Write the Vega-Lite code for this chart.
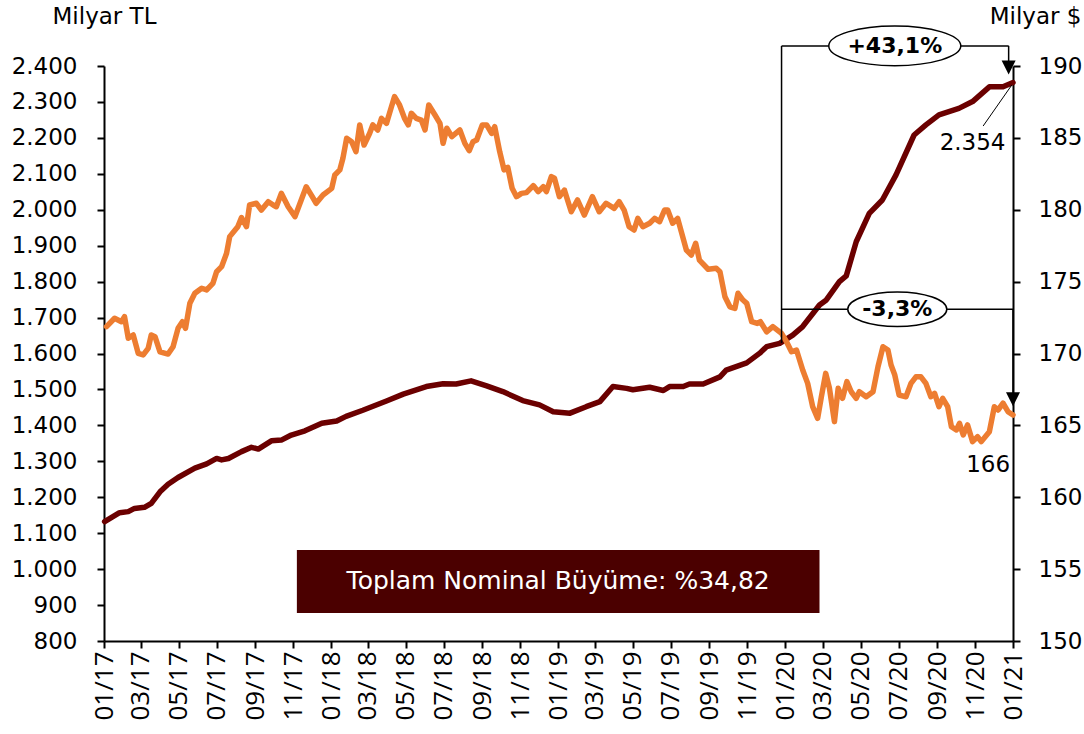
{
  "$schema": "https://vega.github.io/schema/vega-lite/v6.json",
  "width": 909,
  "height": 575,
  "autosize": "none",
  "padding": {"left": 104, "top": 66, "right": 71, "bottom": 93},
  "background": "white",
  "config": {
    "view": {"stroke": null},
    "font": "DejaVu Sans",
    "axis": {
      "grid": false,
      "domainColor": "black",
      "domainWidth": 2,
      "tickColor": "black",
      "tickWidth": 2,
      "tickSize": 7,
      "labelColor": "black",
      "titleColor": "black",
      "labelFont": "DejaVu Sans",
      "titleFont": "DejaVu Sans",
      "titleFontWeight": "normal"
    }
  },
  "datasets": {
    "tl": [
      {"d":"2017-01-02","v":1132},{"d":"2017-01-26","v":1157},{"d":"2017-02-09","v":1160},{"d":"2017-02-19","v":1169},
      {"d":"2017-03-07","v":1172},{"d":"2017-03-18","v":1183},{"d":"2017-04-01","v":1215},{"d":"2017-04-14","v":1236},
      {"d":"2017-04-30","v":1255},{"d":"2017-05-27","v":1281},{"d":"2017-06-15","v":1293},{"d":"2017-07-01","v":1308},
      {"d":"2017-07-09","v":1304},{"d":"2017-07-20","v":1308},{"d":"2017-08-10","v":1327},{"d":"2017-08-26","v":1339},
      {"d":"2017-09-06","v":1334},{"d":"2017-09-27","v":1357},{"d":"2017-10-13","v":1359},{"d":"2017-10-29","v":1373},
      {"d":"2017-11-20","v":1385},{"d":"2017-12-17","v":1406},{"d":"2018-01-10","v":1412},{"d":"2018-01-25","v":1425},
      {"d":"2018-02-21","v":1442},{"d":"2018-03-31","v":1468},{"d":"2018-04-27","v":1487},{"d":"2018-06-03","v":1508},
      {"d":"2018-06-30","v":1516},{"d":"2018-07-21","v":1515},{"d":"2018-08-14","v":1524},{"d":"2018-09-08","v":1510},
      {"d":"2018-10-04","v":1494},{"d":"2018-11-05","v":1469},{"d":"2018-12-02","v":1457},{"d":"2018-12-24","v":1438},
      {"d":"2019-01-20","v":1434},{"d":"2019-02-15","v":1452},{"d":"2019-03-09","v":1466},{"d":"2019-03-30","v":1508},
      {"d":"2019-04-21","v":1503},{"d":"2019-05-01","v":1499},{"d":"2019-05-28","v":1506},{"d":"2019-06-19","v":1497},
      {"d":"2019-06-29","v":1508},{"d":"2019-07-21","v":1508},{"d":"2019-07-31","v":1515},{"d":"2019-08-22","v":1515},
      {"d":"2019-09-18","v":1535},{"d":"2019-09-28","v":1554},{"d":"2019-10-31","v":1574},{"d":"2019-11-21","v":1601},
      {"d":"2019-12-02","v":1619},{"d":"2019-12-23","v":1628},{"d":"2020-01-13","v":1651},{"d":"2020-01-29","v":1675},
      {"d":"2020-02-25","v":1735},{"d":"2020-03-07","v":1749},{"d":"2020-03-28","v":1800},{"d":"2020-04-08","v":1816},
      {"d":"2020-04-24","v":1911},{"d":"2020-05-15","v":1990},{"d":"2020-06-05","v":2027},{"d":"2020-06-27","v":2097},
      {"d":"2020-07-26","v":2208},{"d":"2020-08-14","v":2236},{"d":"2020-09-04","v":2264},{"d":"2020-10-06","v":2282},
      {"d":"2020-10-28","v":2301},{"d":"2020-11-24","v":2342},{"d":"2020-12-16","v":2342},{"d":"2021-01-01","v":2354}
    ],
    "usd": [
      {"d":"2017-01-05","v":171.87},{"d":"2017-01-18","v":172.45},{"d":"2017-01-29","v":172.21},{"d":"2017-02-03","v":172.56},
      {"d":"2017-02-09","v":171.06},{"d":"2017-02-17","v":171.29},{"d":"2017-02-25","v":170.01},{"d":"2017-03-05","v":169.90},
      {"d":"2017-03-13","v":170.36},{"d":"2017-03-18","v":171.29},{"d":"2017-03-24","v":171.17},{"d":"2017-04-01","v":170.12},
      {"d":"2017-04-14","v":169.96},{"d":"2017-04-22","v":170.47},{"d":"2017-04-30","v":171.75},{"d":"2017-05-07","v":172.21},
      {"d":"2017-05-12","v":171.75},{"d":"2017-05-19","v":173.49},{"d":"2017-05-27","v":174.19},{"d":"2017-06-07","v":174.54},
      {"d":"2017-06-15","v":174.42},{"d":"2017-06-25","v":174.88},{"d":"2017-07-01","v":175.69},{"d":"2017-07-09","v":176.04},
      {"d":"2017-07-17","v":176.97},{"d":"2017-07-22","v":178.13},{"d":"2017-08-04","v":178.82},{"d":"2017-08-10","v":179.45},
      {"d":"2017-08-18","v":178.82},{"d":"2017-08-23","v":180.33},{"d":"2017-09-03","v":180.45},{"d":"2017-09-11","v":179.98},
      {"d":"2017-09-22","v":180.56},{"d":"2017-09-30","v":180.33},{"d":"2017-10-05","v":180.21},{"d":"2017-10-13","v":181.14},
      {"d":"2017-10-24","v":180.21},{"d":"2017-11-04","v":179.52},{"d":"2017-11-14","v":180.68},{"d":"2017-11-22","v":181.60},
      {"d":"2017-11-30","v":181.03},{"d":"2017-12-08","v":180.45},{"d":"2017-12-19","v":181.03},{"d":"2018-01-02","v":181.49},
      {"d":"2018-01-07","v":182.42},{"d":"2018-01-15","v":182.77},{"d":"2018-01-20","v":183.58},{"d":"2018-01-26","v":184.97},
      {"d":"2018-02-03","v":184.73},{"d":"2018-02-10","v":184.04},{"d":"2018-02-16","v":185.90},{"d":"2018-02-23","v":184.50},
      {"d":"2018-03-04","v":185.32},{"d":"2018-03-09","v":185.90},{"d":"2018-03-17","v":185.55},{"d":"2018-03-23","v":186.36},
      {"d":"2018-03-31","v":186.01},{"d":"2018-04-08","v":187.17},{"d":"2018-04-13","v":187.87},{"d":"2018-04-21","v":187.29},
      {"d":"2018-04-29","v":186.36},{"d":"2018-05-05","v":185.90},{"d":"2018-05-10","v":186.71},{"d":"2018-05-18","v":186.36},
      {"d":"2018-05-26","v":186.24},{"d":"2018-06-01","v":185.55},{"d":"2018-06-07","v":187.29},{"d":"2018-06-17","v":186.59},
      {"d":"2018-06-25","v":186.01},{"d":"2018-06-30","v":184.62},{"d":"2018-07-06","v":185.67},{"d":"2018-07-14","v":185.08},
      {"d":"2018-07-27","v":185.55},{"d":"2018-08-04","v":184.62},{"d":"2018-08-11","v":184.11},{"d":"2018-08-17","v":184.73},
      {"d":"2018-08-23","v":184.85},{"d":"2018-09-01","v":185.90},{"d":"2018-09-08","v":185.90},{"d":"2018-09-16","v":185.32},
      {"d":"2018-09-21","v":185.78},{"d":"2018-09-29","v":184.04},{"d":"2018-10-06","v":182.77},{"d":"2018-10-12","v":182.95},
      {"d":"2018-10-19","v":181.49},{"d":"2018-10-26","v":180.91},{"d":"2018-11-03","v":181.14},{"d":"2018-11-11","v":181.19},
      {"d":"2018-11-22","v":181.68},{"d":"2018-11-30","v":181.26},{"d":"2018-12-08","v":181.60},{"d":"2018-12-13","v":181.26},
      {"d":"2018-12-21","v":182.30},{"d":"2018-12-26","v":182.19},{"d":"2019-01-03","v":180.91},{"d":"2019-01-11","v":181.37},
      {"d":"2019-01-22","v":179.86},{"d":"2019-02-01","v":180.68},{"d":"2019-02-12","v":179.63},{"d":"2019-02-25","v":180.91},
      {"d":"2019-03-08","v":179.86},{"d":"2019-03-19","v":180.45},{"d":"2019-04-01","v":180.10},{"d":"2019-04-09","v":180.56},
      {"d":"2019-04-17","v":179.98},{"d":"2019-04-25","v":178.82},{"d":"2019-05-03","v":178.59},{"d":"2019-05-09","v":179.40},
      {"d":"2019-05-17","v":178.82},{"d":"2019-05-28","v":179.06},{"d":"2019-06-05","v":179.40},{"d":"2019-06-13","v":179.17},
      {"d":"2019-06-21","v":179.98},{"d":"2019-06-26","v":179.98},{"d":"2019-07-04","v":179.06},{"d":"2019-07-12","v":179.40},
      {"d":"2019-07-26","v":177.20},{"d":"2019-08-03","v":176.85},{"d":"2019-08-10","v":177.67},{"d":"2019-08-16","v":176.50},
      {"d":"2019-08-30","v":175.86},{"d":"2019-09-12","v":175.93},{"d":"2019-09-18","v":175.69},{"d":"2019-09-26","v":173.95},
      {"d":"2019-10-04","v":173.25},{"d":"2019-10-12","v":173.14},{"d":"2019-10-17","v":174.19},{"d":"2019-10-25","v":173.72},
      {"d":"2019-10-31","v":173.49},{"d":"2019-11-08","v":172.21},{"d":"2019-11-17","v":172.09},{"d":"2019-11-22","v":172.21},
      {"d":"2019-12-02","v":171.51},{"d":"2019-12-12","v":171.87},{"d":"2019-12-26","v":171.40},{"d":"2020-01-03","v":170.82},
      {"d":"2020-01-11","v":170.12},{"d":"2020-01-19","v":170.24},{"d":"2020-01-29","v":168.85},{"d":"2020-02-06","v":167.92},
      {"d":"2020-02-14","v":166.30},{"d":"2020-02-22","v":165.49},{"d":"2020-02-28","v":166.99},{"d":"2020-03-06","v":168.62},
      {"d":"2020-03-12","v":167.58},{"d":"2020-03-20","v":165.26},{"d":"2020-03-26","v":167.58},{"d":"2020-04-02","v":166.88},
      {"d":"2020-04-09","v":168.04},{"d":"2020-04-16","v":167.34},{"d":"2020-04-24","v":166.88},{"d":"2020-04-29","v":167.34},
      {"d":"2020-05-10","v":166.99},{"d":"2020-05-21","v":167.34},{"d":"2020-05-29","v":169.08},{"d":"2020-06-06","v":170.47},
      {"d":"2020-06-14","v":170.24},{"d":"2020-06-19","v":169.20},{"d":"2020-06-25","v":168.50},{"d":"2020-07-02","v":167.11},
      {"d":"2020-07-13","v":166.99},{"d":"2020-07-21","v":167.92},{"d":"2020-07-29","v":168.38},{"d":"2020-08-06","v":168.38},
      {"d":"2020-08-14","v":167.92},{"d":"2020-08-22","v":166.99},{"d":"2020-08-28","v":167.23},{"d":"2020-09-04","v":166.30},
      {"d":"2020-09-10","v":166.88},{"d":"2020-09-18","v":166.30},{"d":"2020-09-24","v":164.91},{"d":"2020-10-02","v":164.68},
      {"d":"2020-10-07","v":165.14},{"d":"2020-10-13","v":164.33},{"d":"2020-10-20","v":165.03},{"d":"2020-10-28","v":163.87},
      {"d":"2020-11-05","v":164.21},{"d":"2020-11-11","v":163.87},{"d":"2020-11-24","v":164.56},{"d":"2020-12-02","v":166.30},
      {"d":"2020-12-08","v":166.07},{"d":"2020-12-16","v":166.54},{"d":"2020-12-24","v":165.95},{"d":"2021-01-01","v":165.72}
    ]
  },
  "layer": [
    {
      "data": {"name": "tl", "format": {"parse": {"d": "date:'%Y-%m-%d'"}}},
      "mark": {"type": "line", "color": "#6B0000", "strokeWidth": 5.5, "strokeJoin": "round", "strokeCap": "round"},
      "encoding": {
        "x": {
          "field": "d", "type": "temporal",
          "scale": {"domain": [{"year": 2017, "month": 1, "date": 1}, {"year": 2021, "month": 1, "date": 1}], "nice": false},
          "axis": {
            "title": null, "format": "%m/%y", "labelAngle": 270, "labelFont": "Open Sans", "labelFontSize": 26,
            "labelPadding": 3, "tickCount": {"interval": "month", "step": 2}, "labelOverlap": false,
            "labelFlush": false, "labelBound": false
          }
        },
        "y": {
          "field": "v", "type": "quantitative",
          "scale": {"domain": [800, 2400], "nice": false, "zero": false},
          "axis": {
            "orient": "left",
            "values": [800, 900, 1000, 1100, 1200, 1300, 1400, 1500, 1600, 1700, 1800, 1900, 2000, 2100, 2200, 2300, 2400],
            "labelExpr": "replace(format(datum.value, ','), ',', '.')",
            "labelFontSize": 23, "labelPadding": 20,
            "title": "Milyar TL", "titleAngle": 0, "titleX": 0, "titleY": -50,
            "titleAlign": "center", "titleBaseline": "middle", "titleFontSize": 23
          }
        }
      }
    },
    {
      "data": {"name": "usd", "format": {"parse": {"d": "date:'%Y-%m-%d'"}}},
      "mark": {"type": "line", "color": "#ED7D31", "strokeWidth": 5.5, "strokeJoin": "round", "strokeCap": "round"},
      "encoding": {
        "x": {"field": "d", "type": "temporal"},
        "y": {
          "field": "v", "type": "quantitative",
          "scale": {"domain": [150, 190], "nice": false, "zero": false},
          "axis": {
            "orient": "right",
            "values": [150, 155, 160, 165, 170, 175, 180, 185, 190],
            "labelFontSize": 23, "labelPadding": 18,
            "title": "Milyar $", "titleAngle": 0, "titleX": 22, "titleY": -50,
            "titleAlign": "center", "titleBaseline": "middle", "titleFontSize": 23
          }
        }
      }
    },
    {
      "layer": [
        {
          "data": {
            "values": [
              {"a": "2019-12-26", "b": "2020-12-25", "y1": 2456, "y2": 2456},
              {"a": "2019-12-26", "b": "2019-12-26", "y1": 2456, "y2": 1629},
              {"a": "2020-12-25", "b": "2020-12-25", "y1": 2456, "y2": 2400},
              {"a": "2019-12-26", "b": "2021-01-01", "y1": 1723, "y2": 1723},
              {"a": "2021-01-01", "b": "2021-01-01", "y1": 1723, "y2": 1480}
            ],
            "format": {"parse": {"a": "date:'%Y-%m-%d'", "b": "date:'%Y-%m-%d'"}}
          },
          "mark": {"type": "rule", "color": "black", "strokeWidth": 1.5, "clip": false},
          "encoding": {
            "x": {"field": "a", "type": "temporal"},
            "x2": {"field": "b"},
            "y": {"field": "y1", "type": "quantitative", "scale": {"domain": [800, 2400], "nice": false, "zero": false}, "axis": null},
            "y2": {"field": "y2"}
          }
        },
        {
          "data": {
            "values": [{"a": "2020-11-14", "b": "2020-12-30", "y1": 2233, "y2": 2347}],
            "format": {"parse": {"a": "date:'%Y-%m-%d'", "b": "date:'%Y-%m-%d'"}}
          },
          "mark": {"type": "rule", "color": "black", "strokeWidth": 1, "clip": false},
          "encoding": {
            "x": {"field": "a", "type": "temporal"},
            "x2": {"field": "b"},
            "y": {"field": "y1", "type": "quantitative", "axis": null},
            "y2": {"field": "y2"}
          }
        },
        {
          "data": {
            "values": [{"d": "2020-12-25", "v": 2396}, {"d": "2021-01-01", "v": 1473}],
            "format": {"parse": {"d": "date:'%Y-%m-%d'"}}
          },
          "mark": {"type": "point", "shape": "M-1,-1L1,-1L0,1Z", "size": 196, "filled": true, "color": "black", "opacity": 1, "clip": false},
          "encoding": {
            "x": {"field": "d", "type": "temporal"},
            "y": {"field": "v", "type": "quantitative", "axis": null}
          }
        },
        {
          "data": {"values": [{"d": "2020-06-25", "v": 2456}], "format": {"parse": {"d": "date:'%Y-%m-%d'"}}},
          "mark": {
            "type": "point",
            "shape": "M-1,0C-1,-0.166,-0.552,-0.3,0,-0.3C0.552,-0.3,1,-0.166,1,0C1,0.166,0.552,0.3,0,0.3C-0.552,0.3,-1,0.166,-1,0Z",
            "size": 17424, "filled": true, "fill": "white", "stroke": "black", "strokeWidth": 1.5, "opacity": 1, "clip": false
          },
          "encoding": {
            "x": {"field": "d", "type": "temporal"},
            "y": {"field": "v", "type": "quantitative", "axis": null}
          }
        },
        {
          "data": {"values": [{"d": "2020-06-29", "v": 1723}], "format": {"parse": {"d": "date:'%Y-%m-%d'"}}},
          "mark": {
            "type": "point",
            "shape": "M-1,0C-1,-0.193,-0.552,-0.35,0,-0.35C0.552,-0.35,1,-0.193,1,0C1,0.193,0.552,0.35,0,0.35C-0.552,0.35,-1,0.193,-1,0Z",
            "size": 9801, "filled": true, "fill": "white", "stroke": "black", "strokeWidth": 1.5, "opacity": 1, "clip": false
          },
          "encoding": {
            "x": {"field": "d", "type": "temporal"},
            "y": {"field": "v", "type": "quantitative", "axis": null}
          }
        },
        {
          "data": {
            "values": [{"d": "2020-06-25", "v": 2456, "t": "+43,1%"}, {"d": "2020-06-29", "v": 1723, "t": "-3,3%"}],
            "format": {"parse": {"d": "date:'%Y-%m-%d'"}}
          },
          "mark": {"type": "text", "font": "DejaVu Sans", "fontSize": 22, "fontWeight": "bold", "color": "black", "align": "center", "baseline": "middle", "clip": false},
          "encoding": {
            "x": {"field": "d", "type": "temporal"},
            "y": {"field": "v", "type": "quantitative", "axis": null},
            "text": {"field": "t"}
          }
        },
        {
          "data": {
            "values": [{"d": "2020-10-28", "v": 2186, "t": "2.354"}, {"d": "2020-11-22", "v": 1290, "t": "166"}],
            "format": {"parse": {"d": "date:'%Y-%m-%d'"}}
          },
          "mark": {"type": "text", "font": "DejaVu Sans", "fontSize": 23, "color": "black", "align": "center", "baseline": "middle", "clip": false},
          "encoding": {
            "x": {"field": "d", "type": "temporal"},
            "y": {"field": "v", "type": "quantitative", "axis": null},
            "text": {"field": "t"}
          }
        },
        {
          "data": {
            "values": [{"a": "2017-11-07", "b": "2020-02-25", "y1": 1053, "y2": 878}],
            "format": {"parse": {"a": "date:'%Y-%m-%d'", "b": "date:'%Y-%m-%d'"}}
          },
          "mark": {"type": "rect", "color": "#4B0000", "opacity": 1, "clip": false},
          "encoding": {
            "x": {"field": "a", "type": "temporal"},
            "x2": {"field": "b"},
            "y": {"field": "y1", "type": "quantitative", "axis": null},
            "y2": {"field": "y2"}
          }
        },
        {
          "data": {
            "values": [{"d": "2019-01-01", "v": 966, "t": "Toplam Nominal Büyüme: %34,82"}],
            "format": {"parse": {"d": "date:'%Y-%m-%d'"}}
          },
          "mark": {"type": "text", "font": "DejaVu Sans", "fontSize": 25, "color": "white", "align": "center", "baseline": "middle", "clip": false},
          "encoding": {
            "x": {"field": "d", "type": "temporal"},
            "y": {"field": "v", "type": "quantitative", "axis": null},
            "text": {"field": "t"}
          }
        }
      ]
    }
  ],
  "resolve": {"scale": {"y": "independent"}}
}
